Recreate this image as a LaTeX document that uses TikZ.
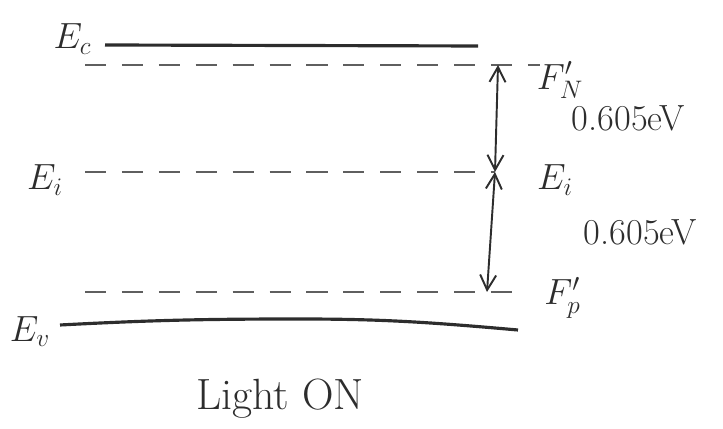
\documentclass[tikz,border=0pt]{standalone}
\usepackage{tikz}
\usetikzlibrary{arrows.meta, positioning}
\usepackage{xcolor}
\definecolor{ink}{RGB}{45,45,45}
\definecolor{pencil}{RGB}{95,95,95}

\begin{document}
\begin{tikzpicture}[>={Straight Barb[length=3mm, width=3.2mm]}, thick, ink]
  \useasboundingbox (0,0) rectangle (14.46,8.58);
  \tikzset{
    band/.style={line width=1.8pt, ink},
    level/.style={dashed, dash pattern=on 12pt off 9pt, pencil, line width=0.9pt},
    lbl/.style={font=\huge, inner sep=1pt},
    gap/.style={font=\huge, inner sep=1pt}
  }

  % Conduction band
  \coordinate (ecL) at (2.1,7.68);
  \coordinate (ecR) at (9.56,7.66);
  \draw[band] (ecL) -- (ecR);
  \node[lbl] (ec) at (1.45,7.8) {$E_c$};

  % Quasi Fermi level for electrons
  \coordinate (fnL) at (1.7,7.28);
  \coordinate (fnR) at (10.8,7.28);
  \coordinate (fnA) at (9.96,7.28);
  \draw[level] (fnL) -- (fnR);
  \node[lbl] (fn) at (11.2,6.98) {$F_N'$};

  % Intrinsic level
  \coordinate (eiL) at (1.7,5.14);
  \coordinate (eiR) at (9.9,5.14);
  \coordinate (eiA) at (9.9,5.14);
  \draw[level] (eiL) -- (eiR);
  \node[lbl] (eil) at (0.9,4.98) {$E_i$};
  \node[lbl] (eir) at (11.1,4.98) {$E_i$};

  % Quasi Fermi level for holes
  \coordinate (fpL) at (1.7,2.74);
  \coordinate (fpR) at (10.5,2.74);
  \coordinate (fpA) at (9.74,2.74);
  \draw[level] (fpL) -- (fpR);
  \node[lbl] (fp) at (11.25,2.62) {$F_p'$};

  % Valence band
  \coordinate (evL) at (1.2,2.08);
  \coordinate (evR) at (10.36,1.98);
  \draw[band] (evL) to[out=3, in=180] (6.0,2.2) to[out=0, in=175] (evR);
  \node[lbl] (ev) at (0.6,1.95) {$E_v$};

  % Splittings
  \draw[<->, line width=1.1pt] (fnA) -- (eiA)
    node[midway, right=1.45cm, gap] (gapn) {0.605eV};
  \draw[<->, line width=1.1pt] (eiA) -- (fpA)
    node[midway, right=1.8cm, gap] (gapp) {0.605eV};

  \node[font=\Huge] (light) at (5.6,0.6) {Light ON};
\end{tikzpicture}
\end{document}
